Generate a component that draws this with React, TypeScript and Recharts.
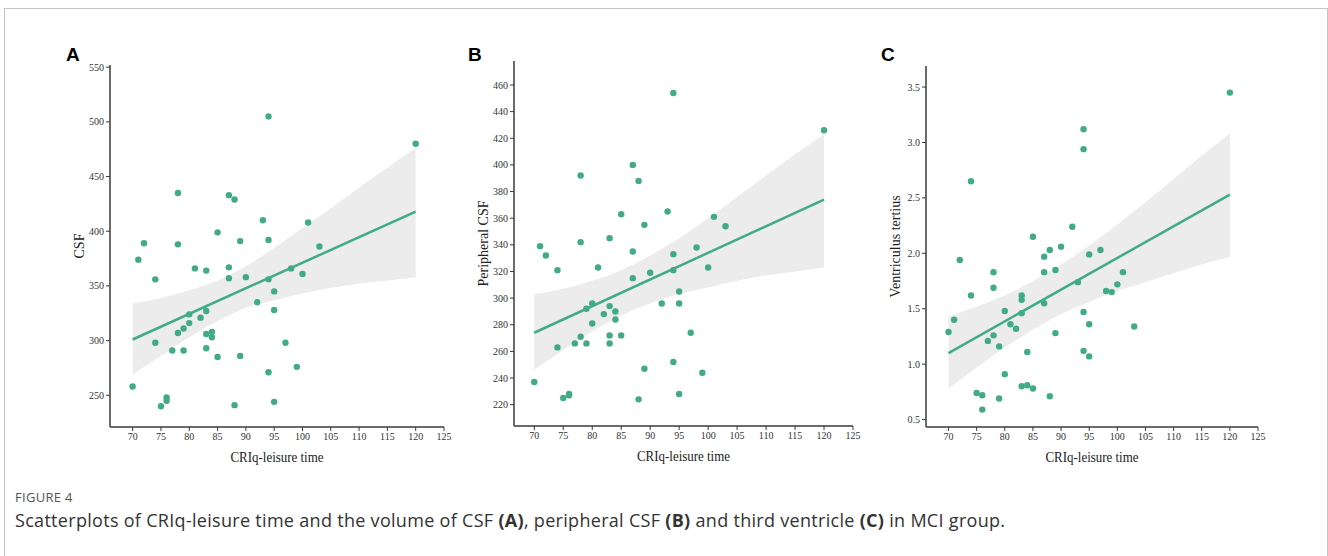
import React from 'react';
import { ComposedChart, Scatter, Line, Area, XAxis, YAxis, Label } from 'recharts';

// colours
const GREEN = '#40ab86';
const BAND = '#ececec';
const AXIS = '#3a3a3a';
const SERIF = '"Liberation Serif", "Times New Roman", serif';
const SANS = '"Open Sans", "Noto Sans", sans-serif';

const xTicks = [70, 75, 80, 85, 90, 95, 100, 105, 110, 115, 120, 125];
const bandX = [70, 75, 80, 85, 90, 95, 100, 105, 110, 115, 120];
const fitX = [70, 120];

// A: CSF
const xsA = [94, 120, 78, 87, 88, 93, 101, 85, 72, 78, 89, 94, 103, 71, 81, 83, 87, 98, 100, 74, 87, 90, 94, 95, 92, 95, 83, 80, 82, 80, 79, 78, 83, 84, 84, 74, 97, 77, 79, 83, 85, 89, 99, 94, 70, 76, 76, 75, 88, 95];
const ysA = [505, 480, 435, 433, 429, 410, 408, 399, 389, 388, 391, 392, 386, 374, 366, 364, 367, 366, 361, 356, 357, 358, 356, 345, 335, 328, 327, 324, 321, 316, 311, 307, 306, 308, 303, 298, 298, 291, 291, 293, 285, 286, 276, 271, 258, 248, 245, 240, 241, 244];
const fitA = [301, 418];
const loA = [269, 286, 303, 318, 330, 337, 343, 348, 352, 355, 358];
const hiA = [334, 339, 346, 355, 368, 385, 403, 421, 440, 458, 476];
const yTicksA = [250, 300, 350, 400, 450, 500, 550];

// B: peripheral CSF
const xsB = [94, 120, 87, 78, 88, 85, 93, 101, 89, 103, 71, 78, 83, 72, 87, 94, 98, 74, 81, 100, 94, 90, 87, 95, 80, 92, 95, 83, 79, 82, 84, 84, 80, 97, 78, 83, 85, 77, 79, 83, 74, 94, 89, 99, 70, 76, 76, 75, 88, 95];
const ysB = [454, 426, 400, 392, 388, 363, 365, 361, 355, 354, 339, 342, 345, 332, 335, 333, 338, 321, 323, 323, 321, 319, 315, 305, 296, 296, 296, 294, 292, 288, 290, 284, 281, 274, 271, 272, 272, 266, 266, 266, 263, 252, 247, 244, 237, 228, 227, 225, 224, 228];
const fitB = [274, 374];
const loB = [246, 261, 275, 287, 296, 303, 308, 313, 317, 320, 323];
const hiB = [303, 307, 313, 321, 332, 345, 360, 376, 392, 408, 423];
const yTicksB = [220, 240, 260, 280, 300, 320, 340, 360, 380, 400, 420, 440, 460];

// C: ventriculus tertius
const xsC = [120, 94, 94, 74, 92, 85, 90, 88, 97, 87, 95, 72, 78, 87, 89, 101, 78, 74, 83, 83, 87, 93, 98, 99, 100, 80, 83, 94, 71, 81, 95, 103, 82, 70, 89, 78, 77, 79, 84, 94, 95, 80, 83, 84, 85, 75, 76, 88, 79, 76];
const ysC = [3.45, 3.12, 2.94, 2.65, 2.24, 2.15, 2.06, 2.03, 2.03, 1.97, 1.99, 1.94, 1.83, 1.83, 1.85, 1.83, 1.69, 1.62, 1.62, 1.58, 1.55, 1.74, 1.66, 1.65, 1.72, 1.48, 1.46, 1.47, 1.40, 1.36, 1.36, 1.34, 1.32, 1.29, 1.28, 1.26, 1.21, 1.16, 1.11, 1.12, 1.07, 0.91, 0.80, 0.81, 0.78, 0.74, 0.72, 0.71, 0.69, 0.59];
const fitC = [1.10, 2.53];
const loC = [0.78, 0.97, 1.15, 1.31, 1.45, 1.56, 1.66, 1.74, 1.82, 1.90, 1.97];
const hiC = [1.43, 1.52, 1.62, 1.75, 1.90, 2.07, 2.26, 2.46, 2.67, 2.88, 3.08];
const yTicksC = [0.5, 1.0, 1.5, 2.0, 2.5, 3.0, 3.5];

const H = 480;

interface PanelProps {
  left: number;
  width: number;
  plot: { left: number; top: number; right: number; bottom: number };
  xDomain: [number, number];
  yDomain: [number, number];
  yTicks: number[];
  yFmt?: (v: number) => string;
  xs: number[];
  ys: number[];
  fit: number[];
  lo: number[];
  hi: number[];
  yLabel: string;
}

const Panel = ({ left, width, plot, xDomain, yDomain, yTicks, yFmt, xs, ys, fit, lo, hi, yLabel }: PanelProps) => {
  const pts = xs.map((x, i) => ({ x, y: ys[i] }));
  const band = bandX.map((x, i) => ({ x, band: [lo[i], hi[i]] }));
  const line = fitX.map((x, i) => ({ x, y: fit[i] }));
  const tickStyle = { fontSize: 10, fill: '#333', fontFamily: SERIF };

  return (
    <div style={{ position: 'absolute', left, top: 0 }}>
      <ComposedChart
        width={width}
        height={H}
        data={band}
        margin={{
          top: plot.top,
          left: plot.left - left - 40,
          right: left + width - plot.right,
          bottom: H - plot.bottom - 30
        }}
      >
        <XAxis
          type="number"
          dataKey="x"
          domain={xDomain}
          ticks={xTicks}
          interval={0}
          allowDataOverflow
          height={30}
          tick={tickStyle}
          tickSize={4}
          tickMargin={2}
          tickLine={{ stroke: AXIS }}
          axisLine={{ stroke: AXIS, strokeWidth: 1.5 }}
        >
          <Label
            content={({ viewBox }: any) => (
              <text
                x={viewBox.x + viewBox.width / 2}
                y={viewBox.y + 35}
                textAnchor="middle"
                fontFamily={SERIF}
                fontSize={14}
                fill="#222"
                textLength={93}
                lengthAdjust="spacingAndGlyphs"
              >
                CRIq-leisure time
              </text>
            )}
          />
        </XAxis>
        <YAxis
          type="number"
          domain={yDomain}
          ticks={yTicks}
          interval={0}
          allowDataOverflow
          width={40}
          tick={tickStyle}
          tickFormatter={yFmt}
          tickSize={4}
          tickMargin={2}
          tickLine={{ stroke: AXIS }}
          axisLine={{ stroke: AXIS, strokeWidth: 1.5 }}
        >
          <Label
            content={({ viewBox }: any) => {
              const cx = viewBox.x + viewBox.width - 26;
              const cy = viewBox.y + viewBox.height / 2;
              return (
                <text
                  x={cx}
                  y={cy}
                  transform={`rotate(-90 ${cx} ${cy})`}
                  textAnchor="middle"
                  fontFamily={SERIF}
                  fontSize={14}
                  fill="#222"
                >
                  {yLabel}
                </text>
              );
            }}
          />
        </YAxis>
        <Area
          type="monotone"
          dataKey="band"
          stroke="none"
          fill={BAND}
          fillOpacity={1}
          isAnimationActive={false}
        />
        <Line
          data={line}
          dataKey="y"
          stroke={GREEN}
          strokeWidth={2.5}
          dot={false}
          isAnimationActive={false}
        />
        <Scatter
          data={pts}
          dataKey="y"
          isAnimationActive={false}
          shape={(p: any) => <circle cx={p.cx} cy={p.cy} r={3.2} fill={GREEN} />}
        />
      </ComposedChart>
    </div>
  );
};

const letterStyle = (left: number): React.CSSProperties => ({
  position: 'absolute',
  left,
  top: 45,
  fontFamily: '"Liberation Sans", Arial, sans-serif',
  fontWeight: 'bold',
  fontSize: 19,
  lineHeight: '20px',
  color: '#000'
});

export default function App() {
  return (
    <div style={{ position: 'absolute', left: 0, top: 0, width: 1328, height: 556, background: '#fff', overflow: 'hidden' }}>
      <div
        style={{
          position: 'absolute',
          left: 4,
          top: 8,
          width: 1322,
          height: 560,
          borderTop: '1px solid #c4c4c4',
          borderLeft: '1px solid #c4c4c4',
          borderRight: '1px solid #c4c4c4'
        }}
      />
      <Panel
        left={0}
        width={460}
        plot={{ left: 110, top: 65, right: 444, bottom: 427 }}
        xDomain={[66, 125]}
        yDomain={[221, 552]}
        yTicks={yTicksA}
        xs={xsA}
        ys={ysA}
        fit={fitA}
        lo={loA}
        hi={hiA}
        yLabel="CSF"
      />
      <Panel
        left={460}
        width={410}
        plot={{ left: 514, top: 61, right: 853, bottom: 426 }}
        xDomain={[66.5, 125]}
        yDomain={[204, 478]}
        yTicks={yTicksB}
        xs={xsB}
        ys={ysB}
        fit={fitB}
        lo={loB}
        hi={hiB}
        yLabel="Peripheral CSF"
      />
      <Panel
        left={870}
        width={450}
        plot={{ left: 926, top: 66, right: 1258, bottom: 427 }}
        xDomain={[66, 125]}
        yDomain={[0.433, 3.69]}
        yTicks={yTicksC}
        yFmt={(v: number) => v.toFixed(1)}
        xs={xsC}
        ys={ysC}
        fit={fitC}
        lo={loC}
        hi={hiC}
        yLabel="Ventriculus tertius"
      />
      <div style={letterStyle(66)}>A</div>
      <div style={letterStyle(468)}>B</div>
      <div style={letterStyle(881)}>C</div>
      <div
        style={{
          position: 'absolute',
          left: 15,
          top: 488,
          fontFamily: SANS,
          fontSize: 13,
          lineHeight: '18px',
          color: '#555',
          letterSpacing: 0.3
        }}
      >
        FIGURE 4
      </div>
      <div
        style={{
          position: 'absolute',
          left: 15,
          top: 508,
          fontFamily: SANS,
          fontSize: 18,
          lineHeight: '24px',
          color: '#333',
          letterSpacing: 0.3,
          whiteSpace: 'nowrap'
        }}
      >
        Scatterplots of CRIq-leisure time and the volume of CSF <b>(A)</b>, peripheral CSF <b>(B)</b> and third
        ventricle <b>(C)</b> in MCI group.
      </div>
    </div>
  );
}
